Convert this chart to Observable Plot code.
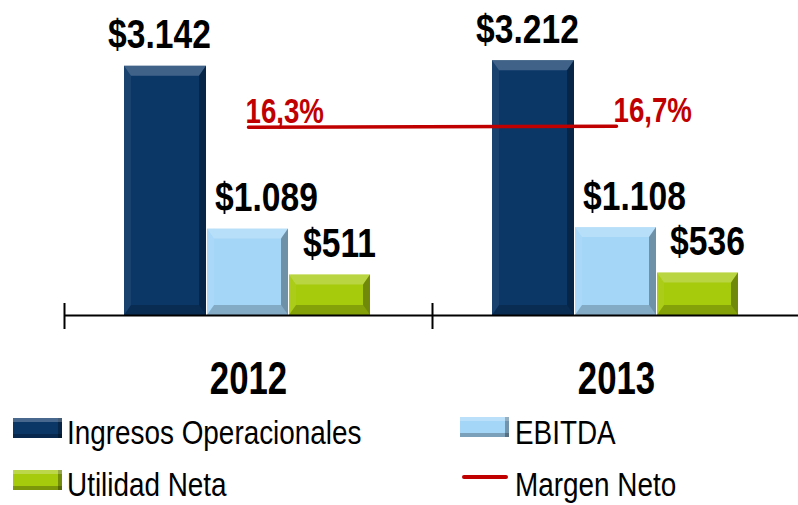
<!DOCTYPE html>
<html><head><meta charset="utf-8">
<script src="https://cdn.jsdelivr.net/npm/d3@7"></script>
<script src="https://cdn.jsdelivr.net/npm/@observablehq/plot@0.6"></script>
<style>
html,body{margin:0;padding:0;background:#fff;}
#wrap{position:relative;width:798px;height:505px;overflow:hidden;font-family:"Liberation Sans",Arial,sans-serif;}
#chart{position:absolute;left:0;top:0;}
.leg{position:absolute;font-size:34px;line-height:34px;color:#000;white-space:nowrap;transform:scaleX(0.82);transform-origin:0 0;}
.sw{position:absolute;}
</style></head><body>
<div id="wrap"><div id="chart"></div><div id="legend"></div></div>
<script>
// ---- data ----
const years = ["2012", "2013"];
const seriesNames = ["Ingresos Operacionales", "EBITDA", "Utilidad Neta", "Margen Neto"];
const ingresos = [3142, 3212];
const ebitda = [1089, 1108];
const utilidad = [511, 536];
const margenNeto = [16.3, 16.7];

// ---- styling ----
const colors = {"Ingresos Operacionales": "#0b3767", "EBITDA": "#a4d6f8", "Utilidad Neta": "#a6ca0c", "Margen Neto": "#c00000"};
const barLayout = {
  "Ingresos Operacionales": {insetLeft: 60, insetRight: 226, labelDx: -89},
  "EBITDA": {insetLeft: 143, insetRight: 144, labelDx: 18},
  "Utilidad Neta": {insetLeft: 225, insetRight: 62, labelDx: 91}
};
const FONT = "'Liberation Sans',Arial,sans-serif";
const yMax = 3970;
const y2Domain = [-59, 67]; // secondary axis for the margin line

const locale = d3.formatLocale({decimal: ",", thousands: ".", grouping: [3], currency: ["$", ""]});
const money = locale.format("$,");
const pct = d => locale.format(",.1f")(d) + "%";

const bars = [];
[ingresos, ebitda, utilidad].forEach((arr, si) => {
  years.forEach((yr, i) => bars.push({year: yr, series: seriesNames[si], value: arr[i]}));
});
const margin = years.map((yr, i) => ({year: yr, margin: margenNeto[i]}));
const toPrimary = m => (m - y2Domain[0]) / (y2Domain[1] - y2Domain[0]) * yMax;

const marks = [];
for (const s of seriesNames.slice(0, 3)) {
  const L = barLayout[s];
  marks.push(Plot.barY(bars.filter(d => d.series === s), {
    x: "year", y: "value", fill: colors[s], insetLeft: L.insetLeft, insetRight: L.insetRight
  }));
}
marks.push(Plot.ruleY([0], {stroke: "#000", strokeWidth: 2}));
marks.push(Plot.ruleX(years, {x: d => d, dx: -184, stroke: "#000", strokeWidth: 2, insetTop: 303, insetBottom: -14}));
marks.push(Plot.line(margin, {x: "year", y: d => toPrimary(d.margin), stroke: colors["Margen Neto"], strokeWidth: 3.5}));
for (const s of seriesNames.slice(0, 3)) {
  marks.push(Plot.text(bars.filter(d => d.series === s), {
    x: "year", y: "value", text: d => money(d.value), dx: barLayout[s].labelDx, dy: -18,
    lineAnchor: "bottom", fontSize: 41, fontWeight: "bold", fontFamily: FONT, fill: "#000",
    ariaDescription: "squeeze-0.82"
  }));
}
marks.push(Plot.text(margin, {
  x: "year", y: d => toPrimary(d.margin), text: d => pct(d.margin), dx: -3, dy: -4,
  textAnchor: "start", lineAnchor: "bottom", fontSize: 35, fontWeight: "bold", fontFamily: FONT,
  fill: colors["Margen Neto"], ariaDescription: "squeeze-0.79"
}));
marks.push(Plot.text(years, {
  x: d => d, frameAnchor: "bottom", dy: 78, lineAnchor: "bottom", text: d => d,
  fontSize: 47, fontWeight: "bold", fontFamily: FONT, fill: "#000", ariaDescription: "squeeze-0.74"
}));

const chart = Plot.plot({
  width: 798, height: 405,
  marginTop: 0, marginBottom: 90, marginLeft: 64, marginRight: 0,
  x: {domain: years, range: [64, 800], padding: 0, axis: null},
  y: {domain: [0, yMax], axis: null},
  style: {background: "#fff", overflow: "visible"},
  marks
});
document.getElementById("chart").appendChild(chart);

// condensed lettering (narrow typeface look) via textLength
chart.querySelectorAll('g[aria-label="text"]').forEach(g => {
  const desc = g.getAttribute("aria-description") || "";
  const m = desc.match(/squeeze-([\d.]+)/);
  const f = m ? +m[1] : 1;
  g.querySelectorAll("text").forEach(t => {
    const w = t.getComputedTextLength();
    t.setAttribute("textLength", (w * f).toFixed(1));
    t.setAttribute("lengthAdjust", "spacingAndGlyphs");
  });
});

// bevel decoration derived from the rendered bars
chart.querySelectorAll('g[aria-label="bar"] rect').forEach(r => {
  const x = +r.getAttribute("x"), y = +r.getAttribute("y"), w = +r.getAttribute("width"), h = +r.getAttribute("height");
  const b = Math.min(10, h / 4), bs = Math.min(7, w / 6);
  const g = r.parentNode;
  const poly = (pts, fill, op) => {
    const p = document.createElementNS("http://www.w3.org/2000/svg", "polygon");
    p.setAttribute("points", pts.map(q => q.join(",")).join(" "));
    p.setAttribute("fill", fill); p.setAttribute("fill-opacity", op);
    g.appendChild(p);
  };
  poly([[x, y], [x + w, y], [x + w - bs, y + b], [x + bs, y + b]], "#fff", 0.22);
  poly([[x, y + h], [x + w, y + h], [x + w - bs, y + h - b], [x + bs, y + h - b]], "#000", 0.2);
  poly([[x + w, y], [x + w, y + h], [x + w - bs, y + h - b], [x + w - bs, y + b]], "#000", 0.32);
  poly([[x, y], [x, y + h], [x + bs, y + h - b], [x + bs, y + b]], "#fff", 0.06);
});

// ---- legend (HTML below the svg) ----
const legend = document.getElementById("legend");
const legItems = [
  {name: seriesNames[0], sx: 13, sy: 418, tx: 67, ty: 415, kind: "bar"},
  {name: seriesNames[1], sx: 460, sy: 417, tx: 515, ty: 415, kind: "bar"},
  {name: seriesNames[2], sx: 13, sy: 470, tx: 67, ty: 467, kind: "bar"},
  {name: seriesNames[3], sx: 462, sy: 475, tx: 515, ty: 467, kind: "line"}
];
for (const it of legItems) {
  const sw = document.createElement("div");
  sw.className = "sw";
  sw.style.left = it.sx + "px"; sw.style.top = it.sy + "px";
  sw.style.background = colors[it.name];
  if (it.kind === "bar") {
    sw.style.width = "49px"; sw.style.height = "20px";
    sw.style.boxShadow = "inset 0 4px 0 rgba(255,255,255,.25), inset -4px 0 0 rgba(0,0,0,.3), inset 0 -4px 0 rgba(0,0,0,.25)";
  } else {
    sw.style.width = "46px"; sw.style.height = "4px"; sw.style.borderRadius = "2px";
  }
  legend.appendChild(sw);
  const t = document.createElement("div");
  t.className = "leg";
  t.style.left = it.tx + "px"; t.style.top = it.ty + "px";
  t.textContent = it.name;
  legend.appendChild(t);
}
</script>
</body></html>
